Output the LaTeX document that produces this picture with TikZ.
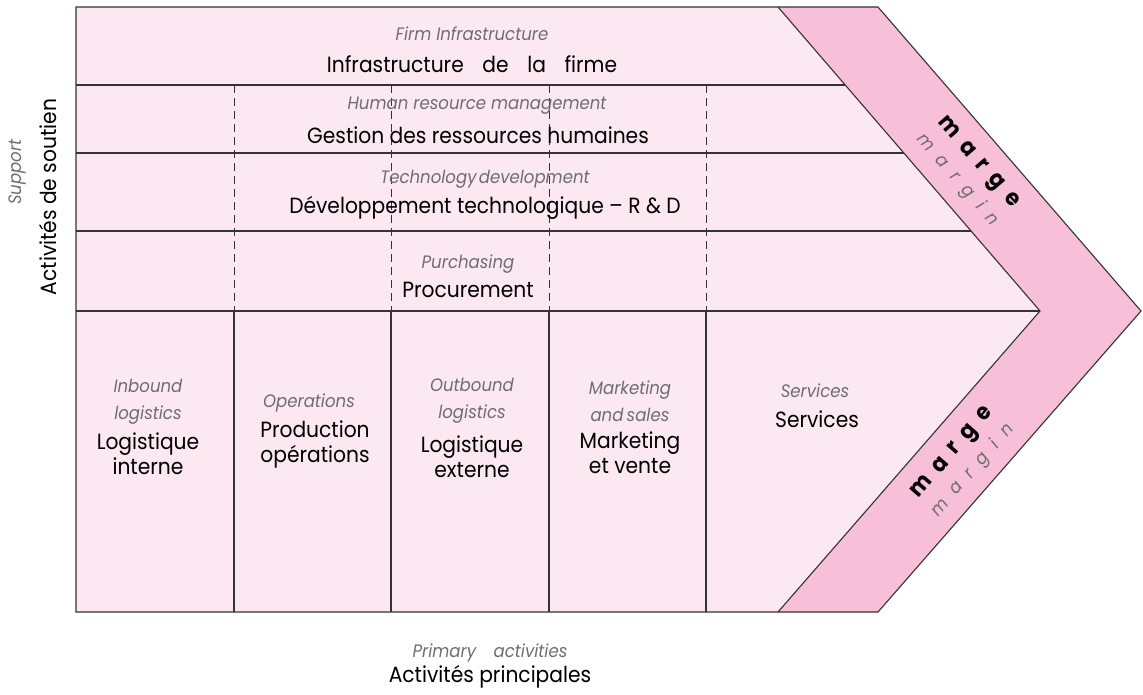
\documentclass[tikz,border=0pt]{standalone}
\usepackage{fontspec}
\setmainfont{Poppins}[FakeStretch=0.92]
\definecolor{lightpk}{HTML}{FCE8F1}
\definecolor{bandpk}{HTML}{F7BFD8}
\definecolor{edgec}{HTML}{333333}
\definecolor{engray}{HTML}{6E6E6E}
\newcommand{\margelbl}{{\fontsize{23}{25}\selectfont\bfseries m\kern10pt a\kern10pt r\kern10pt g\kern10pt e}\\[-1pt]%
  {\fontsize{18}{20}\selectfont\itshape\color{engray}m\kern11pt a\kern11pt r\kern11pt g\kern11pt i\kern11pt n}}
\begin{document}
\begin{tikzpicture}[x=1pt,y=-1pt,
  fr/.style={font=\fontsize{22}{25}\selectfont, text=black, align=center, inner sep=0pt},
  en/.style={font=\fontsize{18}{27}\selectfont\itshape, text=engray, align=center, inner sep=0pt},
  mg/.style={font=\fontsize{23}{28}\selectfont, text=black, align=center, inner sep=0pt},
  solidln/.style={draw=edgec, line width=1.1pt},
  dashln/.style={draw=edgec, line width=1pt, dash pattern=on 8pt off 5pt}]
\useasboundingbox (0,0) rectangle (1143,694);
% shapes
\coordinate (tl) at (76,7);
\coordinate (ti) at (778,7);
\coordinate (to) at (878,7);
\coordinate (tipi) at (1040,311);
\coordinate (tipo) at (1141,311);
\coordinate (bi) at (778,612);
\coordinate (bo) at (878,612);
\coordinate (bl) at (76,612);
\fill[lightpk] (tl) -- (ti) -- (tipi) -- (bi) -- (bl) -- cycle;
\fill[bandpk] (ti) -- (to) -- (tipo) -- (bo) -- (bi) -- (tipi) -- cycle;
% horizontal rows
\draw[solidln] (76,85) -- (845.2,85);
\draw[solidln] (76,153) -- (903.8,153);
\draw[solidln] (76,231) -- (971.1,231);
\draw[solidln] (76,311) -- (tipi);
% dashed support lines
\foreach \x in {234,391,549,706}{
  \draw[dashln] (\x,85) -- (\x,311);
  \draw[solidln] (\x,311) -- (\x,612);
}
% outlines
\draw[solidln, line join=miter] (tl) -- (to) -- (tipo) -- (bo) -- (bl) -- cycle;
\draw[solidln] (ti) -- (tipi) -- (bi);
% support texts
\node[en] (fien) at (472,34) {Firm Infrastructure};
\node[fr] (fifr) at (472,64) {Infrastructure\hspace{0.6em} de\hspace{0.6em} la\hspace{0.6em} firme};
\node[en] (hren) at (477,106) {Human resource management};
\node[fr] (hrfr) at (478,135) {Gestion des ressources humaines};
\node[en] (tden) at (485,179) {Technology\hspace{-0.15em} development};
\node[fr] (tdfr) at (485,208) {Développement technologique -- R \& D};
\node[en] (puen) at (468,264) {Purchasing};
\node[fr] (pufr) at (468,290) {Procurement};
% primary texts
\node[en] (inen) at (148,401.5) {Inbound\\logistics};
\node[fr] (infr) at (148,454) {Logistique\\interne};
\node[en] (open) at (309,403) {Operations};
\node[fr] (opfr) at (315,444) {Production\\opérations};
\node[en] (outen) at (472,401) {Outbound\\logistics};
\node[fr] (outfr) at (472,457) {Logistique\\externe};
\node[en] (msen) at (630,401) {Marketing\\and\hspace{-0.1em} sales};
\node[fr] (msfr) at (630,453) {Marketing\\et vente};
\node[en] (seen) at (815,391) {Services};
\node[fr] (sefr) at (817,419) {Services};
% side labels
\node[en, rotate=90] (supen) at (17,172) {Support};
\node[fr, rotate=90] (supfr) at (48,197) {Activités de soutien};
\node[en] (primen) at (490,653) {Primary\hspace{0.7em} activities};
\node[fr] (primfr) at (490,677) {Activités principales};
% margin labels
\node[mg, rotate=-49.2] (mgup) at (967.5,171.5) {\margelbl};
\node[mg, rotate=49.2] (mglo) at (963,462) {\margelbl};
\end{tikzpicture}
\end{document}
